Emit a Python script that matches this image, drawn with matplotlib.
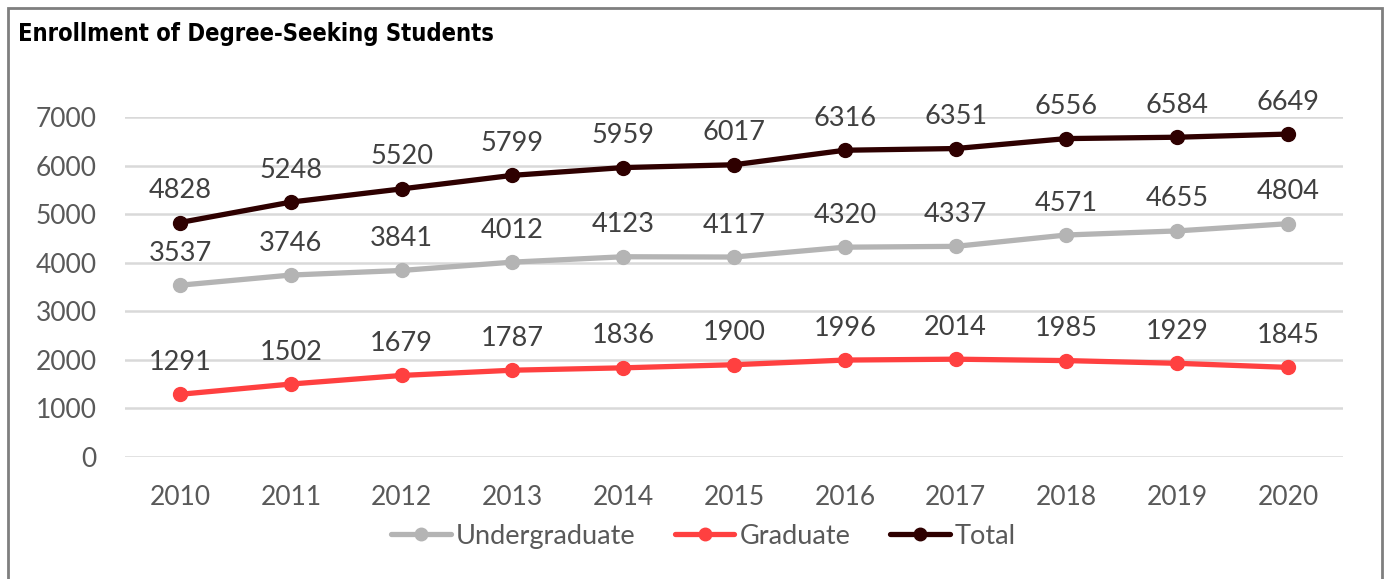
import matplotlib.pyplot as plt
from matplotlib.patches import Rectangle

# data
years = ["2010", "2011", "2012", "2013", "2014", "2015", "2016", "2017", "2018", "2019", "2020"]
undergraduate = [3537, 3746, 3841, 4012, 4123, 4117, 4320, 4337, 4571, 4655, 4804]
graduate = [1291, 1502, 1679, 1787, 1836, 1900, 1996, 2014, 1985, 1929, 1845]
total = [4828, 5248, 5520, 5799, 5959, 6017, 6316, 6351, 6556, 6584, 6649]

series = [
    ("Undergraduate", undergraduate, "#B4B4B4"),
    ("Graduate", graduate, "#FF4040"),
    ("Total", total, "#2E0000"),
]

plt.rcParams["font.family"] = ["Lato", "DejaVu Sans"]

fig = plt.figure(figsize=(13.85, 5.79), dpi=100)
ax = fig.add_axes([0.09, 0.2107, 0.88, 0.5872])

x = range(len(years))
for name, vals, color in series:
    ax.plot(x, vals, color=color, lw=3.8, marker="o", ms=10, label=name,
            solid_capstyle="round")
    for xi, v in zip(x, vals):
        ax.annotate(str(v), (xi, v), xytext=(0, 14), textcoords="offset points",
                    ha="center", va="bottom", fontsize=19.5, color="#404040",
                    annotation_clip=False)

ax.set_xlim(-0.5, len(years) - 0.5)
ax.set_ylim(0, 7000)
ax.set_yticks(range(0, 7001, 1000))
ax.set_xticks(list(x))
ax.set_xticklabels(years)
ax.tick_params(length=0, labelsize=19, labelcolor="#595959")
ax.tick_params(axis="y", pad=20)
ax.tick_params(axis="x", pad=20)
ax.grid(axis="y", color="#D9D9D9", lw=1.8)
ax.set_axisbelow(True)
for s in ax.spines.values():
    s.set_visible(False)

fig.text(0.013, 0.942, "Enrollment of Degree-Seeking Students",
         fontfamily="DejaVu Sans", fontstretch="condensed", fontweight="bold",
         fontsize=17, color="black", va="center", ha="left")

leg = fig.legend(loc="center", bbox_to_anchor=(0.508, 0.074), ncol=3, frameon=False,
                 fontsize=19.5, handlelength=2.2, handletextpad=0.2, columnspacing=1.45,
                 markerscale=0.9)
for t in leg.get_texts():
    t.set_color("#595959")

# chart border
fig.patches.append(Rectangle((0.006, -0.05), 0.992, 1.036, transform=fig.transFigure,
                             fill=False, edgecolor="#7F7F7F", lw=2))

fig.savefig("out.png", dpi=100)
